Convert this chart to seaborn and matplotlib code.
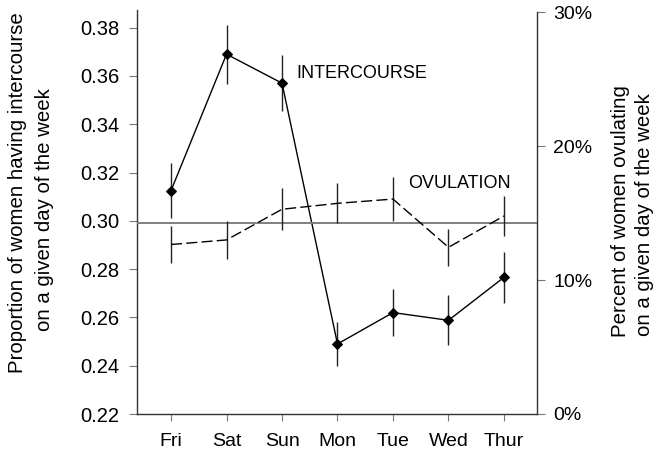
import numpy as np
import pandas as pd
import matplotlib
matplotlib.use("Agg")
import matplotlib.pyplot as plt
import seaborn as sns

# ---- data ----
days = ["Fri", "Sat", "Sun", "Mon", "Tue", "Wed", "Thur"]
intercourse = [0.3125, 0.369, 0.357, 0.249, 0.262, 0.2588, 0.2766]
intercourse_err = [0.0114, 0.0122, 0.0116, 0.0092, 0.0097, 0.0104, 0.0106]
ovulation = [12.65, 12.99, 15.28, 15.72, 16.04, 12.44, 14.78]
ovulation_err = [1.38, 1.42, 1.57, 1.49, 1.62, 1.38, 1.46]
expected_pct = 100 / 7
left_ticks = [0.22, 0.24, 0.26, 0.28, 0.30, 0.32, 0.34, 0.36, 0.38]
right_ticks = [0, 10, 20, 30]
right_tick_labels = ["0%", "10%", "20%", "30%"]

sns.set_style("ticks")
plt.rcParams['font.family'] = ['Liberation Sans', 'DejaVu Sans']
plt.rcParams['text.color'] = 'black'

df = pd.DataFrame({
    "pos": np.arange(len(days)),
    "intercourse": intercourse,
    "intercourse_err": intercourse_err,
    "ovulation": ovulation,
    "ovulation_err": ovulation_err,
})

fig = plt.figure(figsize=(6.56, 4.55), dpi=100)
ax = fig.add_axes([137 / 656, 1 - 414 / 455, 400 / 656, 404 / 455])
ax2 = ax.twinx()

# intercourse (left axis)
ax.vlines(df["pos"], df["intercourse"] - df["intercourse_err"],
          df["intercourse"] + df["intercourse_err"], color="#222222", lw=1.0)
sns.lineplot(data=df, x="pos", y="intercourse", ax=ax, color="black",
             marker="D", markersize=5.5, markeredgecolor="black", lw=1.0)

# ovulation (right axis)
ax2.axhline(expected_pct, color="#7f7f7f", lw=1.4)
ax2.vlines(df["pos"], df["ovulation"] - df["ovulation_err"],
           df["ovulation"] + df["ovulation_err"], color="#222222", lw=1.0)
sns.lineplot(data=df, x="pos", y="ovulation", ax=ax2, color="black",
             lw=1.0, linestyle=(0, (8, 3)))

ax.set_xlim(-0.613, 6.595)
ax.set_ylim(0.22, 0.3873)
ax2.set_ylim(0, 30.15)

ax.set_xticks(df["pos"])
ax.set_xticklabels(days)
ax.set_yticks(left_ticks)
ax.set_yticklabels([f"{t:.2f}" for t in left_ticks])
ax2.set_yticks(right_ticks)
ax2.set_yticklabels(right_tick_labels)
ax.set_xlabel("")
ax.set_ylabel("")
ax2.set_xlabel("")
ax2.set_ylabel("")

spine_c = "#333333"
for a in (ax, ax2):
    a.spines["top"].set_visible(False)
    for s in a.spines.values():
        s.set_color(spine_c)
        s.set_linewidth(1.0)
ax.spines["right"].set_visible(False)
ax2.spines["left"].set_visible(False)
ax2.spines["bottom"].set_visible(False)
ax2.spines["right"].set_bounds(0, 30)

ax.tick_params(axis="y", direction="out", length=5.8, width=0.8,
               color="#777777", labelcolor="black", labelsize=14.5, pad=7)
ax.tick_params(axis="x", direction="out", length=5, width=0.8,
               color="#777777", labelcolor="black", labelsize=14, pad=9)
ax2.tick_params(axis="y", direction="out", length=5.8, width=0.8,
                color="#777777", labelcolor="black", labelsize=14, pad=6)

ax.text(2.25, 0.3612, "INTERCOURSE", fontsize=13, va="center", ha="left")
ax.text(4.265, 0.3154, "OVULATION", fontsize=13, va="center", ha="left")

lab_fs = 14.7
fig.text(18 / 656, 1 - 192.5 / 455, "Proportion of women having intercourse",
         rotation=90, ha="center", va="center", fontsize=lab_fs)
fig.text(45 / 656, 1 - 210 / 455, "on a given day of the week",
         rotation=90, ha="center", va="center", fontsize=lab_fs)
fig.text(620 / 656, 1 - 211.5 / 455, "Percent of women ovulating",
         rotation=90, ha="center", va="center", fontsize=lab_fs)
fig.text(645 / 656, 1 - 214.5 / 455, "on a given day of the week",
         rotation=90, ha="center", va="center", fontsize=lab_fs)

fig.savefig("out.png", dpi=100)
